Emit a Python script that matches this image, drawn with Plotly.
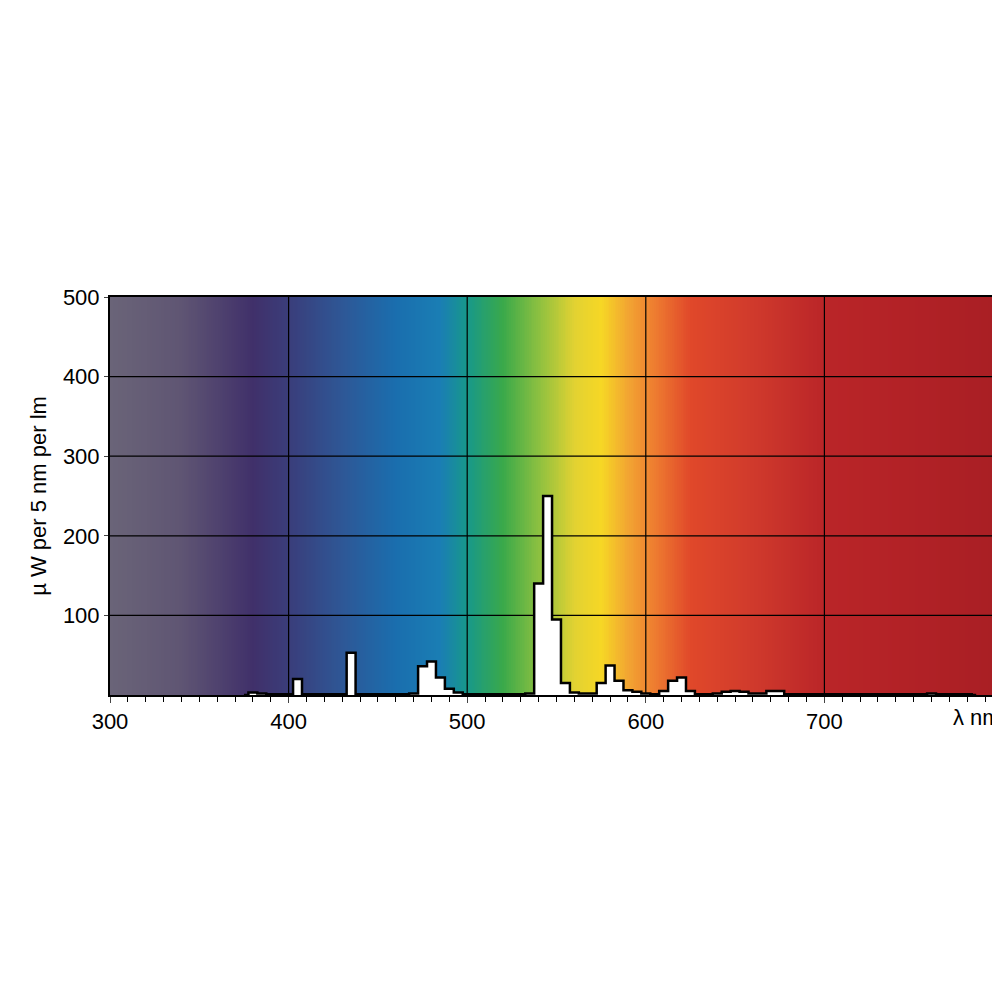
import plotly.graph_objects as go
import numpy as np

# spectrum in 5 nm bins (centre wavelength)
wl = list(range(375, 790, 5))
power = [0, 3, 2, 1, 1, 1, 20, 1, 1, 1, 1, 1, 53, 1, 1, 1, 1, 1, 1, 2, 36, 42, 22, 8, 3,
         1, 1, 1, 1, 1, 1, 1, 2, 140, 250, 95, 15, 3, 2, 2, 15, 37, 18, 6, 4, 2,
         1, 5, 18, 22, 5, 1, 1, 2, 4, 5, 4, 2, 2, 5, 5, 1, 1, 1, 1, 1, 1, 1, 1,
         1, 1, 1, 1, 1, 1, 1, 1, 2, 1, 1, 1, 1, 0]
wl = wl[:len(power)]

# background spectrum colours
bg_nm = [300, 340, 380, 400, 430, 460, 485, 500, 520, 540, 560, 575, 590, 605, 625, 660, 700, 800]
bg_col = ["#6a6478", "#5f5573", "#40306a", "#3a3d7a", "#2e5796", "#1a6eae", "#1a7eb4", "#17988a",
          "#3aa94a", "#8cc040", "#e2d232", "#f6d725", "#f2a532", "#ee7c30", "#e0482a", "#d03a2c",
          "#ba2528", "#a81e24"]

scale = [[(n - 300) / 500, c] for n, c in zip(bg_nm, bg_col)]
xs = np.linspace(300, 800, 501)
font = dict(size=22, color="black", family="Liberation Sans")

fig = go.Figure()
fig.add_trace(go.Heatmap(x=xs, y=[0, 500], z=[xs, xs], colorscale=scale, zmin=300, zmax=800,
                         showscale=False, hoverinfo="skip"))

# grid drawn between the background and the bars
gx, gy = [], []
for v in [400, 500, 600, 700]:
    gx += [v, v, None]
    gy += [0, 500, None]
for v in [100, 200, 300, 400]:
    gx += [300, 800, None]
    gy += [v, v, None]
fig.add_trace(go.Scatter(x=gx, y=gy, mode="lines", line=dict(color="black", width=1.2),
                         hoverinfo="skip", showlegend=False))

fig.add_trace(go.Scatter(x=wl, y=power, mode="lines", line=dict(shape="hvh", color="black", width=2.5),
                         fill="tozeroy", fillcolor="white", showlegend=False))

fig.update_xaxes(range=[300, 800], tickvals=[300, 400, 500, 600, 700],
                 showgrid=False, ticks="outside", ticklen=6,
                 minor=dict(dtick=10, ticks="outside", ticklen=5, tickcolor="black"),
                 showline=True, linecolor="black", linewidth=2, mirror=True,
                 tickfont=font)
fig.update_yaxes(range=[0, 500], tickvals=[100, 200, 300, 400, 500],
                 showgrid=False, ticks="outside", ticklen=4,
                 showline=True, linecolor="black", linewidth=2, mirror=True,
                 title=dict(text="µ W per 5 nm per lm", font=font, standoff=10),
                 tickfont=font)
fig.add_annotation(x=800, y=0, xref="x", yref="y", yanchor="top", xanchor="right", yshift=-8,
                   text="λ nm", showarrow=False, font=font)
fig.update_layout(width=1000, height=1000, margin=dict(l=102, r=3, t=289, b=313),
                  paper_bgcolor="white", plot_bgcolor="white", showlegend=False)
fig.write_html("out.html")
